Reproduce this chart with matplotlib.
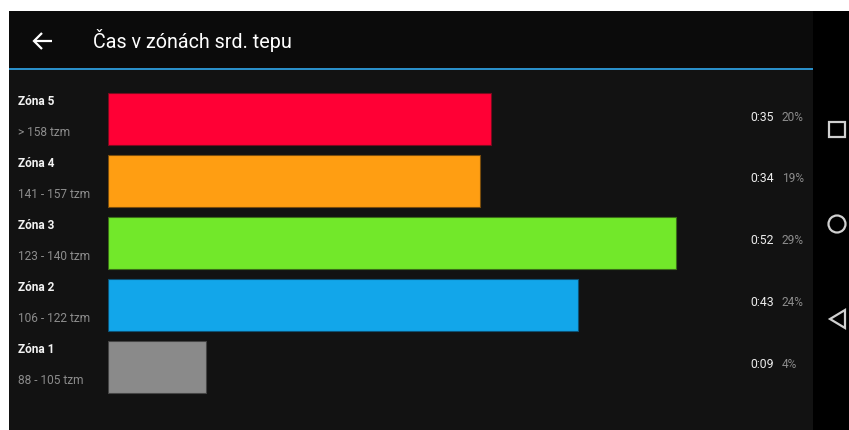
import matplotlib
matplotlib.use("Agg")
import matplotlib.pyplot as plt
from matplotlib.patches import Rectangle, Circle, Polygon
from matplotlib.transforms import blended_transform_factory

plt.rcParams['font.family'] = ['Roboto', 'DejaVu Sans']

# data (top to bottom, as on screen)
zones = ["Zóna 5", "Zóna 4", "Zóna 3", "Zóna 2", "Zóna 1"]
ranges = ["> 158 tzm", "141 - 157 tzm", "123 - 140 tzm", "106 - 122 tzm", "88 - 105 tzm"]
minutes = [35, 34, 52, 43, 9]
percents = [20, 19, 29, 24, 4]
colors = ["#ff0035", "#ff9e12", "#72e82a", "#12a6ea", "#8a8a8a"]
edges = ["#7a0a1e", "#7a4d0c", "#3a6e18", "#0c5276", "#454545"]
title = "Čas v zónách srd. tepu"

W, H = 849, 430
fig = plt.figure(figsize=(W / 100, H / 100), dpi=100)
fig.patch.set_facecolor("white")

# background / app chrome in pixel coordinates
bg = fig.add_axes([0, 0, 1, 1])
bg.set_xlim(0, W)
bg.set_ylim(H, 0)
bg.axis("off")
bg.add_patch(Rectangle((9, 11), 804, 58, color="#0b0b0b", lw=0))
bg.add_patch(Rectangle((9, 69), 804, H - 69, color="#121212", lw=0))
bg.add_patch(Rectangle((9, 67.5), 804, 2.5, color="#2a8fc9", lw=0))
bg.add_patch(Rectangle((813, 11), W - 813, H - 11, color="#000000", lw=0))
# back arrow
bg.plot([34, 52], [41, 41], color="white", lw=1.6, solid_capstyle="butt")
bg.plot([42, 34, 42], [33, 41, 49], color="white", lw=1.6,
        solid_joinstyle="miter", solid_capstyle="butt")
bg.text(93, 41, title, color="white", fontsize=14.2, ha="left", va="center")
# nav buttons
bg.add_patch(Rectangle((829, 122), 16, 15, fill=False, ec="#d0d0d0", lw=1.6))
bg.add_patch(Circle((837, 224), 8.5, fill=False, ec="#d0d0d0", lw=1.6))
bg.add_patch(Polygon([(845, 310), (845, 328), (830, 319)], closed=True,
                     fill=False, ec="#d0d0d0", lw=1.6))

# bars
px_per_min = 10.93
x0, x1 = 108, 108 + px_per_min * 60
y_top, y_bot = 88, 397.5
ax = fig.add_axes([x0 / W, 1 - y_bot / H, (x1 - x0) / W, (y_bot - y_top) / H])
ax.set_xlim(0, 60)
ax.set_ylim(len(zones) - 0.5, -0.5)
ax.axis("off")
ypos = list(range(len(zones)))
ax.barh(ypos, minutes, height=0.84, color=colors, edgecolor=edges, linewidth=0.8)

tr = blended_transform_factory(fig.transFigure, ax.transData)
for i in ypos:
    ax.text(18 / W, i - 0.28, zones[i], transform=tr, color="#f2f2f2",
            fontsize=8.6, fontweight="bold", ha="left", va="center")
    ax.text(18 / W, i + 0.225, ranges[i], transform=tr, color="#8c8c8c",
            fontsize=8.6, ha="left", va="center")
    ax.text(750 / W, i - 0.03, f"0:{minutes[i]:02d}", transform=tr, color="#ececec",
            fontsize=8.8, ha="left", va="center")
    ax.text(782 / W, i - 0.03, f"{percents[i]}%", transform=tr, color="#8c8c8c",
            fontsize=8.6, ha="left", va="center")

fig.savefig("out.png", dpi=100, facecolor=fig.get_facecolor())
